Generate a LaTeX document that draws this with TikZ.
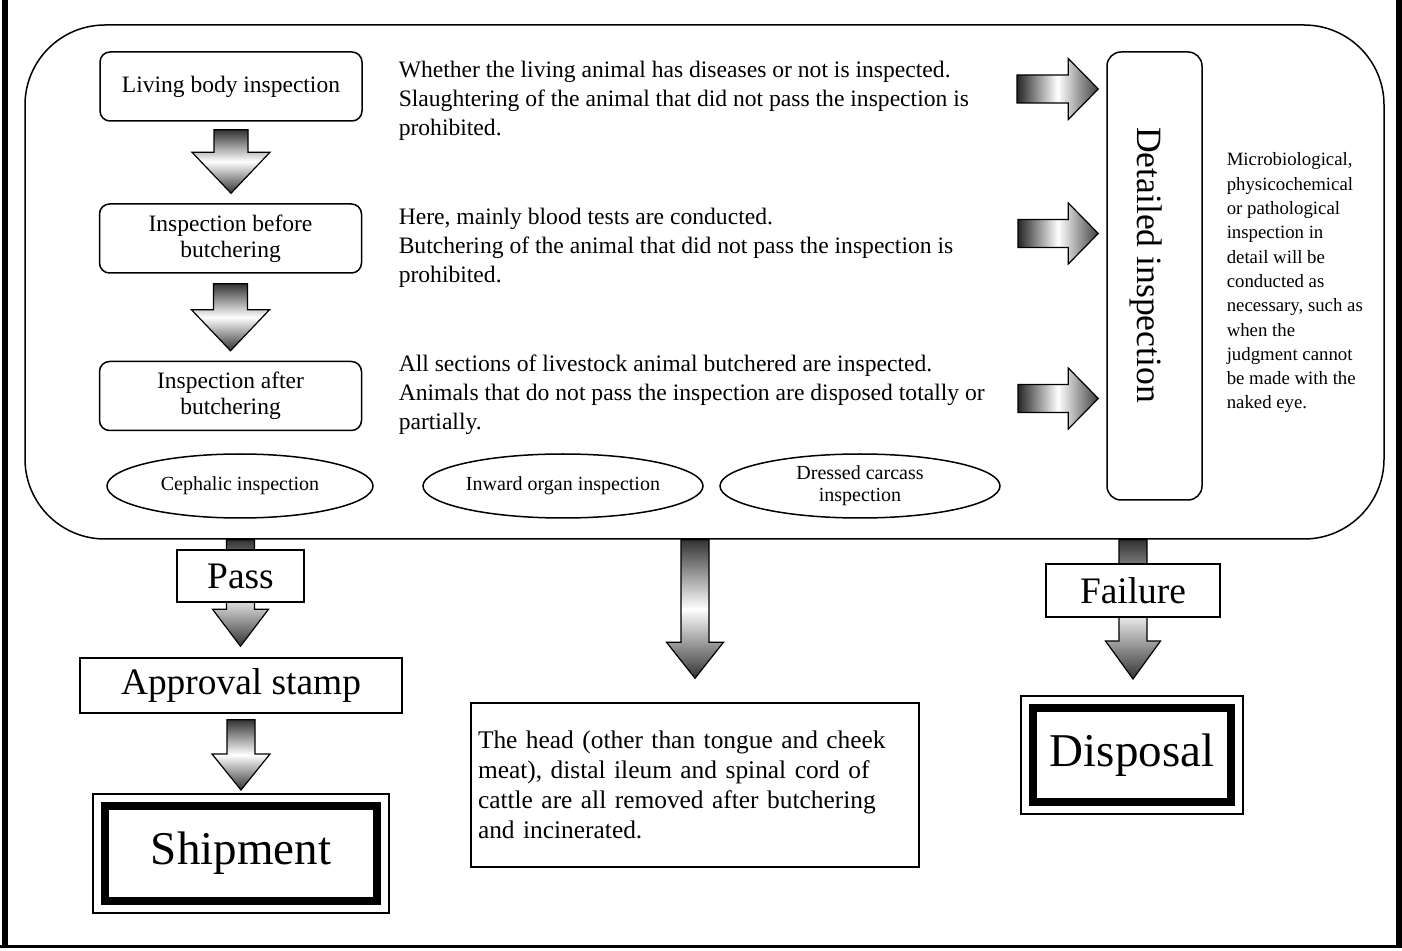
\documentclass[tikz,border=0pt]{standalone}
\usepackage{fontspec}
\setmainfont{Liberation Serif}
\usetikzlibrary{calc,shapes.geometric,backgrounds}

% block arrows: tail, tip, shaft half width, head half width, head length
\newcommand{\vblock}[5]{%
  \shade[vshade] let \p1=#1, \p2=#2 in
    (\x1-#3,\y1) -- (\x1+#3,\y1) -- (\x1+#3,\y2+#5) -- (\x1+#4,\y2+#5) --
    (\x1,\y2) -- (\x1-#4,\y2+#5) -- (\x1-#3,\y2+#5) -- cycle;}
\newcommand{\hblock}[5]{%
  \shade[hshade] let \p1=#1, \p2=#2 in
    (\x1,\y1-#3) -- (\x2-#5,\y1-#3) -- (\x2-#5,\y1-#4) -- (\x2,\y1) --
    (\x2-#5,\y1+#4) -- (\x2-#5,\y1+#3) -- (\x1,\y1+#3) -- cycle;}

\tikzset{
  panelbox/.style={draw, rounded corners=40pt, minimum width=679.5pt, minimum height=257pt},
  stepbox/.style={draw, rounded corners=5pt, minimum width=131pt, minimum height=34.5pt,
    align=center, inner sep=0pt, font=\fontsize{11.75}{13}\selectfont},
  note/.style={anchor=west, align=left, inner sep=0pt, font=\fontsize{11.8}{14.5}\selectfont},
  part/.style={draw, ellipse, inner sep=0pt, minimum height=32pt, align=center,
    font=\fontsize{10}{11}\selectfont},
  tagbox/.style={draw, fill=white, inner sep=0pt, font=\fontsize{18.7}{20}\selectfont},
  endbox/.style={draw, line width=4pt, inner sep=0pt, font=\fontsize{23.5}{26}\selectfont},
  vshade/.style={draw, line width=0.6pt, top color=black!80, bottom color=black!80, middle color=white},
  hshade/.style={draw, line width=0.6pt, left color=black!85, right color=black!75, middle color=white},
}

\begin{document}
\begin{tikzpicture}[x=0.5pt, y=-0.5pt, line width=0.75pt]
  \useasboundingbox (0,0) rectangle (1402,951);

  % outer frame
  \draw[line width=2.75pt] (5,0) -- (5,946);
  \draw[line width=3pt] (1399,0) -- (1399,946);
  \draw[line width=1.5pt] (0,946) -- (1402,946);

  % the inspection panel
  \node[panelbox] (panel) at (704.5,282) {};

  % inspection steps
  \node[stepbox] (living) at (231,86.5) {Living body inspection};
  \node[stepbox] (before) at (230.5,238.5) {Inspection before\\butchering};
  \node[stepbox] (after) at (230.5,396) {Inspection after\\butchering};

  % notes beside the steps
  \node[note] (noteA) at (398,101) {Whether the living animal has diseases or not is inspected.\\
    Slaughtering of the animal that did not pass the inspection is\\prohibited.};
  \node[note] (noteB) at (398,248) {Here, mainly blood tests are conducted.\\
    Butchering of the animal that did not pass the inspection is\\prohibited.};
  \node[note] (noteC) at (398,395) {All sections of livestock animal butchered are inspected.\\
    Animals that do not pass the inspection are disposed totally or\\partially.};

  % parts inspected after butchering
  \node[part, minimum width=133pt] (head) at (240,486) {Cephalic inspection};
  \node[part, minimum width=140pt] (organ) at (563,486) {Inward organ inspection};
  \node[part, minimum width=140pt] (carcass) at (860,486) {Dressed carcass\\inspection};

  % detailed inspection
  \node[draw, rounded corners=7pt, minimum width=47.5pt, minimum height=224pt] (detail) at (1154.5,276) {};
  \node[rotate=-90, inner sep=0pt, font=\fontsize{17.8}{20}\selectfont] (detailtext)
    at ($(detail.center)+(-8,-11)$) {Detailed inspection};
  \node[note, font=\fontsize{9.4}{12.15}\selectfont] (detailnote) at (1226,283)
    {Microbiological,\\physicochemical\\or pathological\\inspection in\\detail will be\\conducted as\\
     necessary, such as\\when the\\judgment cannot\\be made with the\\naked eye.};

  \coordinate (inA) at (1017,89);
  \coordinate (inB) at (1018,233.5);
  \coordinate (inC) at (1018,398.5);

  % results
  \node[tagbox, minimum width=63.5pt, minimum height=26pt] (pass) at (240.5,576) {Pass};
  \node[tagbox, minimum width=161pt, minimum height=27.5pt] (stamp) at (241,685.5) {Approval stamp};
  \node[endbox, minimum width=136pt, minimum height=47.5pt] (ship) at (241,853.5) {Shipment};
  \node[draw, minimum width=224pt, minimum height=82pt, text width=217pt, inner xsep=3.5pt,
    align=left, font=\fontsize{12.7}{15}\selectfont] (rule) at (695,785)
    {The head (other than tongue and cheek\\meat), distal ileum and spinal cord of\\
     cattle are all removed after butchering\\and incinerated.};
  \node[tagbox, minimum width=87pt, minimum height=26.5pt] (fail) at (1133,590.5) {Failure};
  \node[endbox, minimum width=99pt, minimum height=47pt] (disp) at (1132,755) {Disposal};
  \foreach \n in {ship,disp}
    \draw ($(\n.north west)+(-4pt,4pt)$) rectangle ($(\n.south east)+(4pt,-4pt)$);

  % block arrows
  \begin{scope}[on background layer]
    \vblock{($(living.south)+(0,8)$)}{($(before.north)+(0,-10)$)}{8.5pt}{19.5pt}{20.5pt}
    \vblock{($(before.south)+(0,10)$)}{($(after.north)+(0,-10)$)}{8.5pt}{19.5pt}{20.5pt}
    \foreach \t in {inA,inB,inC}{
      \hblock{(\t)}{($(\t -| detail.west)+(-8,0)$)}{7pt}{15.25pt}{15pt}
    }
    \vblock{(panel.south -| pass)}{($(stamp.north)+(0,-11)$)}{7pt}{14pt}{18.5pt}
    \vblock{($(stamp.south)+(0,6)$)}{($(ship.north)+(0,-12)$)}{7pt}{14.5pt}{18pt}
    \vblock{(panel.south -| rule)}{($(rule.north)+(0,-24)$)}{7pt}{14.25pt}{18pt}
    \vblock{(panel.south -| fail)}{($(disp.north)+(0,-25)$)}{7pt}{13.75pt}{19pt}
  \end{scope}
\end{tikzpicture}
\end{document}
